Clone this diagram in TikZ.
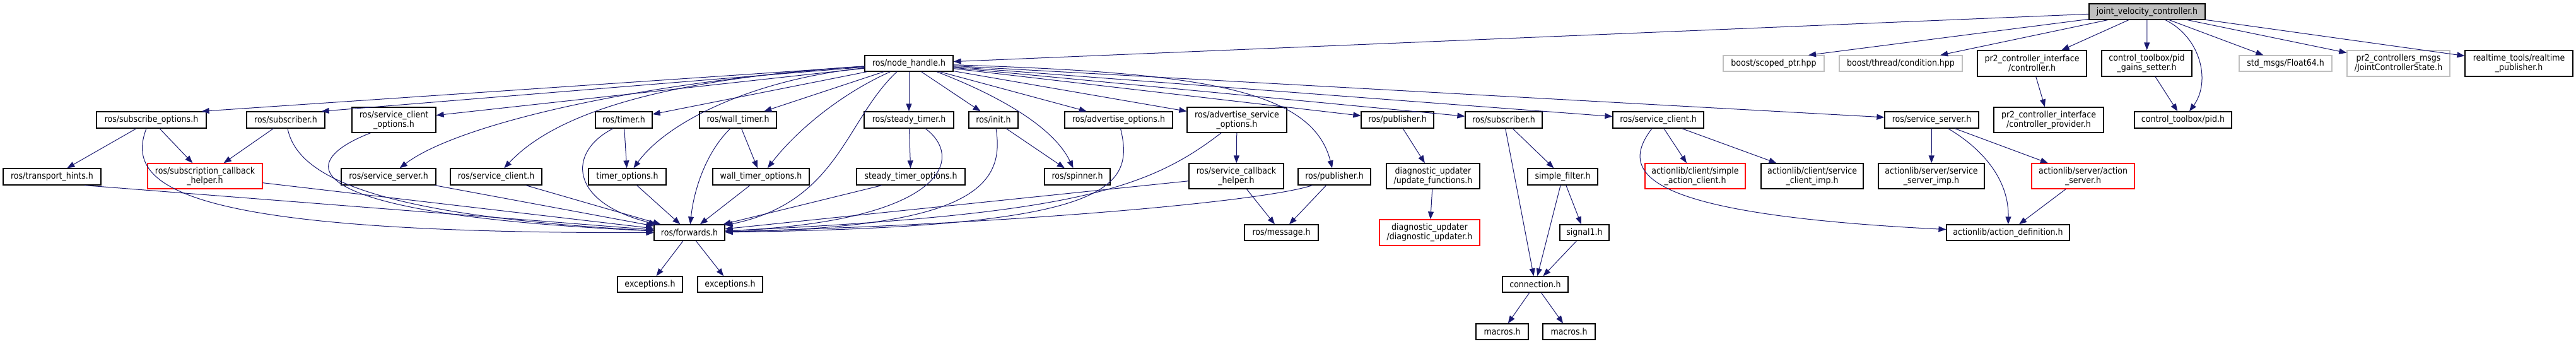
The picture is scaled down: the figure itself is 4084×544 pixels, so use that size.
\documentclass[tikz,border=0pt]{standalone}
\usepackage{fontspec}
\setmainfont{DejaVu Sans Condensed}
\usetikzlibrary{arrows.meta}
\definecolor{edgec}{HTML}{191970}
\definecolor{missc}{HTML}{BFBFBF}
\begin{document}
\begin{tikzpicture}[x=1pt,y=-1pt,
  box/.style={draw=black, line width=1.3pt, fill=white, inner sep=0pt, align=center,
              font=\fontsize{14}{15}\selectfont},
  nb/.style 2 args={box, minimum width=#1, minimum height=#2},
  miss/.style={draw=missc},
  trunc/.style={draw=red},
  root/.style={fill=missc},
  e/.style={draw=edgec, line width=1pt, -{Triangle[length=12pt,width=9pt]}, fill=none}
]
\useasboundingbox (0,0) rectangle (4084,544);

% row 0
\node[nb={184}{25}, root] (jvc) at (3404,18.5) {joint\_velocity\_controller.h};
% row 1
\node[nb={140}{25}] (nh) at (1441,100.5) {ros/node\_handle.h};
\node[nb={160}{25}, miss] (bsp) at (2812,100.5) {boost/scoped\_ptr.hpp};
\node[nb={195}{25}, miss] (btc) at (3013.5,100.5) {boost/thread/condition.hpp};
\node[nb={173}{41}] (pci) at (3221.5,100.5) {pr2\_controller\_interface\\/controller.h};
\node[nb={143}{41}] (pgs) at (3403.5,100.5) {control\_toolbox/pid\\\_gains\_setter.h};
\node[nb={147}{25}, miss] (f64) at (3623.5,100.5) {std\_msgs/Float64.h};
\node[nb={163}{41}, miss] (jcs) at (3802.5,100.5) {pr2\_controllers\_msgs\\/JointControllerState.h};
\node[nb={171}{41}] (rtp) at (3993.5,100.5) {realtime\_tools/realtime\\\_publisher.h};
% row 2
\node[nb={174}{26}] (so) at (240,190) {ros/subscribe\_options.h};
\node[nb={124}{26}] (subL) at (453,190) {ros/subscriber.h};
\node[nb={133}{40}] (sco) at (624.5,190) {ros/service\_client\\\_options.h};
\node[nb={90}{26}] (tim) at (989,190) {ros/timer.h};
\node[nb={122}{26}] (wt) at (1170,190) {ros/wall\_timer.h};
\node[nb={142}{26}] (st) at (1441,190) {ros/steady\_timer.h};
\node[nb={78}{26}] (init) at (1575,190) {ros/init.h};
\node[nb={171}{26}] (ao) at (1773.5,190) {ros/advertise\_options.h};
\node[nb={158}{40}] (aso) at (1961,190) {ros/advertise\_service\\\_options.h};
\node[nb={115}{26}] (pubU) at (2215.5,190) {ros/publisher.h};
\node[nb={122}{26}] (subR) at (2384,190) {ros/subscriber.h};
\node[nb={144}{26}] (scR) at (2629,190) {ros/service\_client.h};
\node[nb={149}{26}] (ssR) at (3062.5,190) {ros/service\_server.h};
\node[nb={174}{40}] (cpp) at (3248,190) {pr2\_controller\_interface\\/controller\_provider.h};
\node[nb={154}{26}] (pid) at (3461,190) {control\_toolbox/pid.h};
% row 3
\node[nb={155}{26}] (th) at (82.5,280) {ros/transport\_hints.h};
\node[nb={182}{40}, trunc] (sch) at (325,279) {ros/subscription\_callback\\\_helper.h};
\node[nb={150}{26}] (ssL) at (616,280) {ros/service\_server.h};
\node[nb={145}{26}] (scL) at (786.5,280) {ros/service\_client.h};
\node[nb={123}{26}] (to) at (994.5,280) {timer\_options.h};
\node[nb={153}{26}] (wto) at (1206.5,280) {wall\_timer\_options.h};
\node[nb={172}{26}] (sto) at (1444,280) {steady\_timer\_options.h};
\node[nb={104}{26}] (spin) at (1708,280) {ros/spinner.h};
\node[nb={150}{40}] (sch2) at (1960,279) {ros/service\_callback\\\_helper.h};
\node[nb={115}{26}] (pubL) at (2115.5,280) {ros/publisher.h};
\node[nb={148}{40}] (uf) at (2272,279) {diagnostic\_updater\\/update\_functions.h};
\node[nb={111}{26}] (sf) at (2477.5,280) {simple\_filter.h};
\node[nb={159}{40}, trunc] (sac) at (2687.5,279) {actionlib/client/simple\\\_action\_client.h};
\node[nb={162}{40}] (sci) at (2873,279) {actionlib/client/service\\\_client\_imp.h};
\node[nb={168}{40}] (ssi) at (3062,279) {actionlib/server/service\\\_server\_imp.h};
\node[nb={163}{40}, trunc] (as) at (3302.5,279) {actionlib/server/action\\\_server.h};
% row 4
\node[nb={112}{25}] (fw) at (1093,368.5) {ros/forwards.h};
\node[nb={117}{25}] (msg) at (2031.5,368.5) {ros/message.h};
\node[nb={159}{41}, trunc] (du) at (2266.5,368.5) {diagnostic\_updater\\/diagnostic\_updater.h};
\node[nb={78}{25}] (sig) at (2512,368.5) {signal1.h};
\node[nb={195}{25}] (ad) at (3183.5,368.5) {actionlib/action\_definition.h};
% row 5
\node[nb={103}{25}] (ex1) at (1030.5,450.5) {exceptions.h};
\node[nb={103}{25}] (ex2) at (1157.5,450.5) {exceptions.h};
\node[nb={104}{25}] (con) at (2434,450.5) {connection.h};
% row 6
\node[nb={83}{25}] (m1) at (2381.5,525.5) {macros.h};
\node[nb={83}{25}] (m2) at (2487.5,525.5) {macros.h};

% root edges
\draw[e] (jvc) -- (nh);
\draw[e] (jvc) -- ([xshift=55]bsp.north);
\draw[e] (jvc) -- (btc);
\draw[e] (jvc) -- (pci);
\draw[e] (jvc) -- (pgs);
\draw[e] ([xshift=29]jvc.south) .. controls (3490,60) and (3505,130) .. (pid);
\draw[e] (jvc) -- (f64);
\draw[e] (jvc) -- (jcs);
\draw[e] (jvc) -- (rtp);
\draw[e] (pci) -- (cpp);
\draw[e] (pgs) -- (pid);

% node_handle edges
\draw[e] (nh) -- ([xshift=-8]so.north east);
\draw[e] (nh) -- ([xshift=-6]subL.north east);
\draw[e] (nh) -- (sco);
\draw[e] (nh) .. controls (1000,130) and (720,200) .. (ssL);
\draw[e] (nh) .. controls (1050,125) and (880,180) .. (scL);
\draw[e] (nh) -- (tim);
\draw[e] (nh) .. controls (1200,125) and (1060,190) .. (to);
\draw[e] (nh) -- (wt);
\draw[e] (nh) .. controls (1330,150) and (1260,210) .. (wto);
\draw[e] ([xshift=-19]nh.south) .. controls (1340,190) and (1330,320) .. (fw);
\draw[e] (nh) -- (st);
\draw[e] (nh) -- (init);
\draw[e] ([xshift=44]nh.south) .. controls (1580,150) and (1670,200) .. (spin);
\draw[e] (nh) -- (ao);
\draw[e] (nh) -- (aso);
\draw[e] (nh) -- (pubU);
\draw[e] (nh) -- (subR);
\draw[e] (nh) -- (scR);
\draw[e] (nh) -- (ssR);
\draw[e] (nh) .. controls (1900,115) and (2080,140) .. (pubL);

% left group
\draw[e] (so) -- (th);
\draw[e] (so) -- (sch);
\draw[e] ([xshift=-8]so.south) .. controls (195,300) and (300,370) .. (fw);
\draw[e] (subL) -- (sch);
\draw[e] (subL) .. controls (470,270) and (560,340) .. (fw);
\draw[e] ([xshift=-37]sco.south) .. controls (460,260) and (470,340) .. (fw);
\draw[e] (sch) -- (fw);
\draw[e] ([xshift=52]th.south) -- (fw);
\draw[e] (ssL) -- (fw);
\draw[e] (scL) -- (fw);
\draw[e] (tim) -- (to);
\draw[e] ([xshift=-17]tim.south) .. controls (900,240) and (900,320) .. (fw);
\draw[e] (wt) -- (wto);
\draw[e] ([xshift=-12]wt.south) .. controls (1120,240) and (1100,300) .. (fw);
\draw[e] (to) -- (fw);
\draw[e] (wto) -- (fw);
\draw[e] (st) -- (sto);
\draw[e] ([xshift=26]st.south) .. controls (1530,250) and (1500,350) .. (fw);
\draw[e] ([xshift=-46]sto.south) -- (fw);
\draw[e] (init) -- (spin);
\draw[e] ([xshift=4]init.south) .. controls (1595,300) and (1530,360) .. (fw);
\draw[e] ([xshift=3]ao.south) .. controls (1800,300) and (1760,360) .. (fw);
\draw[e] (aso) -- (sch2);
\draw[e] ([xshift=-25]aso.south) .. controls (1820,300) and (1700,340) .. (fw);
\draw[e] (sch2) -- (msg);
\draw[e] (sch2) -- (fw);
\draw[e] (pubL) -- (msg);
\draw[e] ([xshift=-35]pubL.south) .. controls (2000,320) and (1600,355) .. (fw);
\draw[e] (fw) -- (ex1);
\draw[e] (fw) -- (ex2);

% middle / right group
\draw[e] (pubU) -- (uf);
\draw[e] (uf) -- (du);
\draw[e] (subR) -- (sf);
\draw[e] (subR) -- (con);
\draw[e] (sf) -- (con);
\draw[e] (sf) -- (sig);
\draw[e] (sig) -- (con);
\draw[e] (con) -- (m1);
\draw[e] (con) -- (m2);
\draw[e] (scR) -- (sac);
\draw[e] (scR) -- (sci);
\draw[e] ([xshift=-10]scR.south) .. controls (2560,280) and (2620,340) .. (ad);
\draw[e] (ssR) -- (ssi);
\draw[e] (ssR) -- (as);
\draw[e] ([xshift=26]ssR.south) .. controls (3150,240) and (3185,290) .. (ad);
\draw[e] (as) -- (ad);
\end{tikzpicture}
\end{document}
